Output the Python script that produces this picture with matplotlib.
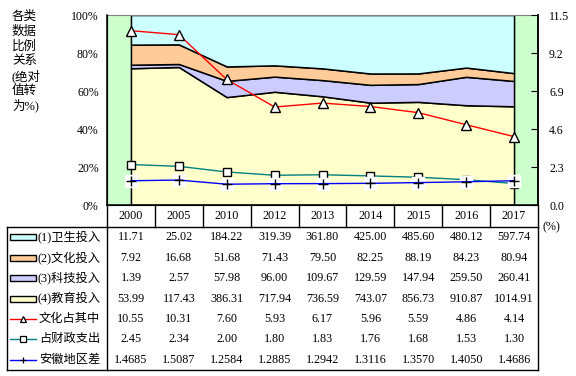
import matplotlib
matplotlib.use("Agg")
import matplotlib.pyplot as plt
from matplotlib.patches import Rectangle
from matplotlib.lines import Line2D
import numpy as np

plt.rcParams['font.family'] = ['Liberation Serif', 'Noto Sans CJK SC']

years = ["2000", "2005", "2010", "2012", "2013", "2014", "2015", "2016", "2017"]
health = [11.71, 25.02, 184.22, 319.39, 361.80, 425.00, 485.60, 480.12, 597.74]
culture = [7.92, 16.68, 51.68, 71.43, 79.50, 82.25, 88.19, 84.23, 80.94]
science = [1.39, 2.57, 57.98, 96.00, 109.67, 129.59, 147.94, 259.50, 260.41]
education = [53.99, 117.43, 386.31, 717.94, 736.59, 743.07, 856.73, 910.87, 1014.91]
culture_share = [10.55, 10.31, 7.60, 5.93, 6.17, 5.96, 5.59, 4.86, 4.14]
fiscal_share = [2.45, 2.34, 2.00, 1.80, 1.83, 1.76, 1.68, 1.53, 1.30]
anhui_gap = [1.4685, 1.5087, 1.2584, 1.2885, 1.2942, 1.3116, 1.3570, 1.4050, 1.4686]

area_labels = ["(1)卫生投入", "(2)文化投入", "(3)科技投入", "(4)教育投入"]
line_labels = ["文化占其中", "占财政支出", "安徽地区差"]

c_health = "#CCFFFF"
c_culture = "#FFCC99"
c_science = "#CCCCFF"
c_edu = "#FFFFCC"
c_green = "#CCFFCC"

W, H = 576, 376
L, R, T, B = 107, 538, 15, 205

fig = plt.figure(figsize=(5.76, 3.76), dpi=100)
ax = fig.add_axes([L / W, 1 - B / H, (R - L) / W, (B - T) / H])

x = np.arange(len(years))
tot = np.array(health) + np.array(culture) + np.array(science) + np.array(education)
pcts = [np.array(education) / tot * 100, np.array(science) / tot * 100,
        np.array(culture) / tot * 100, np.array(health) / tot * 100]
ax.axvspan(-0.5, 0, color=c_green, lw=0)
ax.axvspan(len(years) - 1, len(years) - 0.5, color=c_green, lw=0)
ax.stackplot(x, *pcts, colors=[c_edu, c_science, c_culture, c_health],
             edgecolor="black", linewidth=1.1)
ax.set_xlim(-0.5, len(years) - 0.5)
ax.set_ylim(0, 100)
ax.set_yticks(range(0, 101, 20))
ax.set_yticklabels([f"{v}%" for v in range(0, 101, 20)], fontsize=8.5)
ax.tick_params(axis="y", length=0, pad=6)
ax.set_xticks([])
ax.spines["top"].set_color("#808080")
for s in ["left", "bottom", "right"]:
    ax.spines[s].set_linewidth(1.1)

ax2 = ax.twinx()
ax2.plot(x, culture_share, color="red", lw=1, marker="^", ms=7,
         mfc="white", mec="black", mew=1)
ax2.plot(x, fiscal_share, color="#008080", lw=1, marker="s", ms=6,
         mfc="white", mec="black", mew=1)
ax2.plot(x, anhui_gap, color="blue", lw=1, marker="s", ms=8,
         mfc="white", mec="white", ls="none")
ax2.plot(x, anhui_gap, color="blue", lw=1, marker="+", ms=7,
         mec="black", mew=1)
ax2.set_ylim(0, 11.5)
rt = [0, 2.3, 4.6, 6.9, 9.2, 11.5]
ax2.set_yticks(rt)
ax2.set_yticklabels([f"{v:.1f}" for v in rt], fontsize=8.5)
ax2.tick_params(axis="y", direction="in", length=5, pad=8)
ax2.spines["top"].set_visible(False)
ax2.spines["right"].set_linewidth(1.1)
ax2.set_xticks([])

# table and side text drawn in pixel space
ov = fig.add_axes([0, 0, 1, 1])
ov.set_xlim(0, W)
ov.set_ylim(H, 0)
ov.axis("off")

colw = (R - L) / len(years)
top_body, bot_body, left_body = 227, 370, 7
for i in range(len(years) + 1):
    ov.plot([L + i * colw] * 2, [B, top_body], color="black", lw=1)
ov.plot([left_body, R], [top_body, top_body], color="black", lw=1)
ov.plot([left_body, R], [bot_body, bot_body], color="black", lw=1)
ov.plot([left_body, left_body], [top_body, bot_body], color="black", lw=1)
ov.plot([L, L], [top_body, bot_body], color="black", lw=1)
ov.plot([R, R], [top_body, bot_body], color="black", lw=1)

for i, yr in enumerate(years):
    ov.text(L + (i + 0.5) * colw, 216, yr, ha="center", va="center", fontsize=8.7)

rows = [health, culture, science, education, culture_share, fiscal_share, anhui_gap]
fmts = ["{:.2f}"] * 6 + ["{:.4f}"]
rowh = (bot_body - top_body) / len(rows)
for r, (vals, fm) in enumerate(zip(rows, fmts)):
    yc = top_body + (r + 0.5) * rowh
    for i, v in enumerate(vals):
        ov.text(L + (i + 0.5) * colw, yc, fm.format(v), ha="center", va="center",
                fontsize=8.7)

area_cols = [c_health, c_culture, c_science, c_edu]
for r, (lab, col) in enumerate(zip(area_labels, area_cols)):
    yc = top_body + (r + 0.5) * rowh
    ov.add_patch(Rectangle((10, yc - 3), 26, 6, facecolor=col, edgecolor="black", lw=1))
    ov.text(38, yc, lab, ha="left", va="center", fontsize=8.8)

line_styles = [("red", "^", "white"), ("#008080", "s", "white"), ("blue", "+", "black")]
for k, (lab, (col, mk, mf)) in enumerate(zip(line_labels, line_styles)):
    yc = top_body + (k + 4.5) * rowh
    ov.add_line(Line2D([10, 36], [yc, yc], color=col, lw=1))
    ov.add_line(Line2D([23], [yc], marker=mk, ms=4.5, mfc=mf, mec="black", mew=0.9))
    ov.text(39, yc, lab, ha="left", va="center", fontsize=8.8)

side = ["各类", "数据", "比例", "关系", "(绝对", "值转", "为%)"]
for k, s in enumerate(side):
    ov.text(12, 17 + k * 14.8, s, ha="left", va="center", fontsize=9)

ov.text(551, 227, "(%)", ha="center", va="center", fontsize=8.7)

fig.savefig("out.png", dpi=100)
